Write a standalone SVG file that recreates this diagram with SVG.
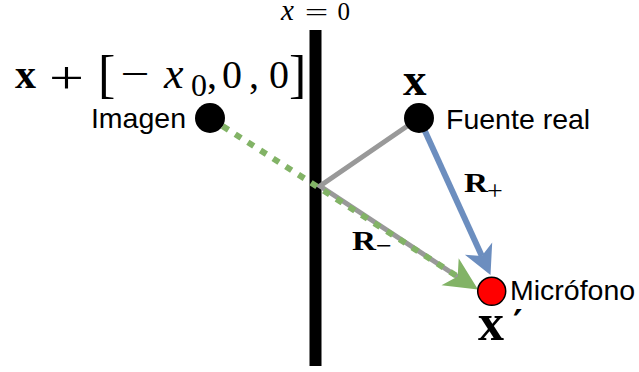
<svg xmlns="http://www.w3.org/2000/svg" width="639" height="372" viewBox="0 0 639 372">
<style>
.m{font-family:"Liberation Serif","Times New Roman",serif;fill:#000}
.b{font-weight:bold}
.i{font-style:italic}
.lbl{font-family:"Liberation Sans",Arial,sans-serif;font-size:28.5px;fill:#000}
.node{fill:#000}
</style>
<rect id="wall" x="309.5" y="30" width="12" height="336" fill="#000"/>
<g id="connectors">
<polyline points="419,118 320,186 458,277" fill="none" stroke="#999999" stroke-width="5" stroke-linejoin="miter"/>
<line x1="222.6" y1="126.1" x2="457.7" y2="276.6" stroke="#82b366" stroke-width="6" stroke-dasharray="7 8"/>
<polygon points="478,289.5 458.7,258.3 457.7,276.6 441.5,285.3" fill="#82b366"/>
<line x1="419" y1="118" x2="481.8" y2="255.9" stroke="#6c8ebf" stroke-width="6"/>
<polygon points="490.5,275 492.2,242.4 481.8,255.9 464.9,254.8" fill="#6c8ebf"/>
</g>
<g id="imagen">
<circle class="node" cx="210" cy="118" r="15"/>
<text class="lbl" x="186" y="128" text-anchor="end">Imagen</text>
</g>
<g id="fuente">
<circle class="node" cx="419" cy="118" r="15"/>
<text class="lbl" x="446" y="129" font-size="29">Fuente real</text>
<text class="m b" x="403" y="95" font-size="47">x</text>
</g>
<g id="microfono">
<circle cx="491.7" cy="291.3" r="14" fill="#ff0000" stroke="#000" stroke-width="1.5"/>
<text class="lbl" x="510" y="299.5">Micrófono</text>
<text class="m b" x="478" y="340" font-size="52">x</text>
<text x="513" y="335" font-family="DejaVu Sans, sans-serif" font-weight="bold" font-size="36">′</text>
</g>
<g id="formula">
<text class="m b" x="15" y="88" font-size="42">x</text>
<text class="m" x="49" y="93" font-size="46" textLength="35" lengthAdjust="spacingAndGlyphs">+</text>
<text class="m" x="98" y="92" font-size="52">[</text>
<text class="m" x="120.5" y="87" font-size="40" textLength="29" lengthAdjust="spacingAndGlyphs">−</text>
<text class="m i" x="164" y="88" font-size="44">x</text>
<text class="m" x="191" y="96" font-size="32">0</text>
<text class="m" x="207" y="88" font-size="40">,</text>
<text class="m" x="222" y="88" font-size="40">0</text>
<text class="m" x="249" y="88" font-size="40">,</text>
<text class="m" x="269" y="88" font-size="40">0</text>
<text class="m" x="289" y="92" font-size="52">]</text>
</g>
<g id="x0label">
<text class="m i" x="281" y="20" font-size="29">x</text>
<text class="m" x="304.7" y="21" font-size="26" textLength="23.5" lengthAdjust="spacingAndGlyphs">=</text>
<text class="m" x="337.5" y="20" font-size="25">0</text>
</g>
<g id="rplus">
<text class="m b" x="464" y="192" font-size="28" textLength="24" lengthAdjust="spacingAndGlyphs">R</text>
<text class="m" x="487" y="200" font-size="28">+</text>
</g>
<g id="rminus">
<text class="m b" x="352" y="250" font-size="28" textLength="24" lengthAdjust="spacingAndGlyphs">R</text>
<text class="m" x="376" y="255" font-size="28">−</text>
</g>
</svg>
